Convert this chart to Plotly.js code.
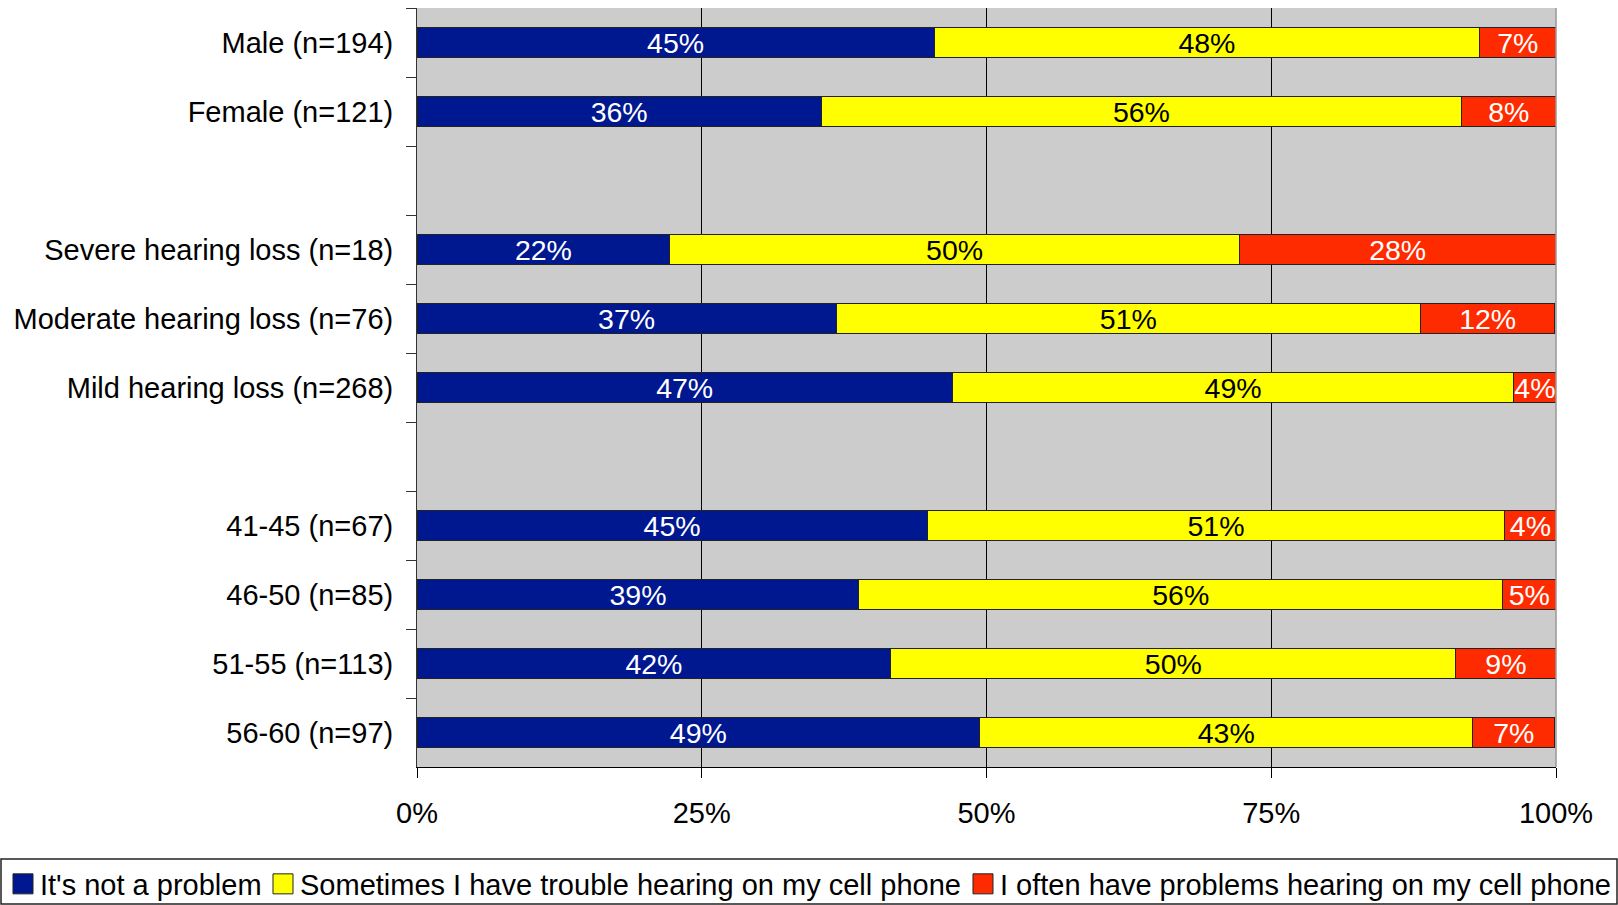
<!DOCTYPE html>
<html>
<head>
<meta charset="utf-8">
<script src="https://cdn.plot.ly/plotly-3.0.1.min.js"></script>
<style>
html,body{margin:0;padding:0;background:#fff;}
#chart{width:1618px;height:905px;}
</style>
</head>
<body>
<div id="chart"></div>
<script>
// Categories (blank strings are spacer rows between groups)
const categories = [
  'Male (n=194)', 'Female (n=121)', ' ',
  'Severe hearing loss (n=18)', 'Moderate hearing loss (n=76)', 'Mild hearing loss (n=268)', '  ',
  '41-45 (n=67)', '46-50 (n=85)', '51-55 (n=113)', '56-60 (n=97)'
];
// Percent shares
const notProblem   = [45.4, 35.5, null, 22.2, 36.8, 47.0, null, 44.8, 38.8, 41.6, 49.4];
const sometimes    = [47.9, 56.2, null, 50.0, 51.3, 49.3, null, 50.7, 56.5, 49.6, 43.3];
const oftenProblem = [ 6.7,  8.3, null, 27.8, 11.8,  3.7, null,  4.5,  4.7,  8.8,  7.2];
// Displayed labels
const notProblemLbl   = ['45%','36%','','22%','37%','47%','','45%','39%','42%','49%'];
const sometimesLbl    = ['48%','56%','','50%','51%','49%','','51%','56%','50%','43%'];
const oftenProblemLbl = ['7%','8%','','28%','12%','4%','','4%','5%','9%','7%'];
const seriesNames = ["It's not a problem", 'Sometimes I have trouble hearing on my cell phone', 'I often have problems hearing on my cell phone'];
const xTicks = [0, 25, 50, 75, 100];
const xTickLabels = ['0%', '25%', '50%', '75%', '100%'];

const FONT = '"Liberation Sans", Arial, sans-serif';
const colors = ['#00188f', '#ffff00', '#ff2b00'];
const textColors = ['#ffffff', '#000000', '#ffffff'];
const vals = [notProblem, sometimes, oftenProblem];
const lbls = [notProblemLbl, sometimesLbl, oftenProblemLbl];
const legendIds = ['legend', 'legend2', 'legend3'];

const traces = vals.map((v, i) => ({
  type: 'bar',
  orientation: 'h',
  name: seriesNames[i],
  y: categories,
  x: v,
  text: lbls[i],
  textposition: 'inside',
  insidetextanchor: 'middle',
  constraintext: 'none',
  textangle: 0,
  textfont: {family: FONT, size: 28.5, color: textColors[i]},
  marker: {color: colors[i], line: {color: '#222', width: 1}},
  legend: legendIds[i],
  hoverinfo: 'skip'
}));

const W = 1618, H = 905;
const m = {l: 417, r: 62, t: 8, b: 138};
const pw = W - m.l - m.r, ph = H - m.t - m.b;
const px = x => (x - m.l) / pw;           // pixel -> paper x
const py = y => (H - m.b - y) / ph;       // pixel -> paper y

const legendBase = {
  orientation: 'h',
  xref: 'container',
  yref: 'container',
  xanchor: 'left',
  yanchor: 'middle',
  y: 1 - 884 / H,
  bgcolor: 'rgba(0,0,0,0)',
  borderwidth: 0,
  font: {family: FONT, size: 29, color: '#000'}
};

const layout = {
  width: W, height: H,
  margin: m,
  paper_bgcolor: '#ffffff',
  plot_bgcolor: '#cccccc',
  barmode: 'stack',
  bargap: 0.565,
  font: {family: FONT, size: 29, color: '#000'},
  showlegend: true,
  legend:  Object.assign({}, legendBase, {x: 0}),
  legend2: Object.assign({}, legendBase, {x: 260 / W}),
  legend3: Object.assign({}, legendBase, {x: 960 / W}),
  xaxis: {
    range: [0, 100],
    tickvals: xTicks,
    ticktext: xTickLabels,
    showgrid: true,
    gridcolor: '#000000',
    gridwidth: 1,
    zeroline: false,
    showline: true,
    linecolor: '#000000',
    linewidth: 1,
    ticks: 'outside',
    ticklen: 10,
    tickcolor: '#000000',
    ticklabelstandoff: 10,
    tickfont: {family: FONT, size: 29, color: '#000'},
    automargin: false,
    fixedrange: true
  },
  yaxis: {
    type: 'category',
    categoryorder: 'array',
    categoryarray: categories,
    autorange: 'reversed',
    showgrid: false,
    zeroline: false,
    showline: true,
    linecolor: '#333333',
    linewidth: 1,
    ticks: 'outside',
    tickson: 'boundaries',
    ticklen: 10,
    tickcolor: '#333333',
    ticklabelstandoff: 17,
    tickfont: {family: FONT, size: 29, color: '#000'},
    automargin: false,
    fixedrange: true
  },
  shapes: [
    {type: 'line', xref: 'paper', yref: 'paper', x0: 1, x1: 1, y0: 0, y1: 1,
     line: {color: '#999999', width: 1.5}},
    {type: 'rect', xref: 'paper', yref: 'paper', x0: px(1), x1: px(1617), y0: py(904), y1: py(859),
     line: {color: '#222222', width: 1.5}, fillcolor: 'rgba(0,0,0,0)'}
  ]
};

Plotly.newPlot('chart', traces, layout, {displayModeBar: false, staticPlot: true}).then(gd => {
  // enlarge the legend swatches to the reference's 20px squares
  gd.querySelectorAll('.legendpoints path').forEach(p => {
    const t = p.getAttribute('transform') || '';
    p.setAttribute('transform', t + ' translate(3,0) scale(1.667)');
    p.setAttribute('vector-effect', 'non-scaling-stroke');
  });
});
</script>
</body>
</html>
